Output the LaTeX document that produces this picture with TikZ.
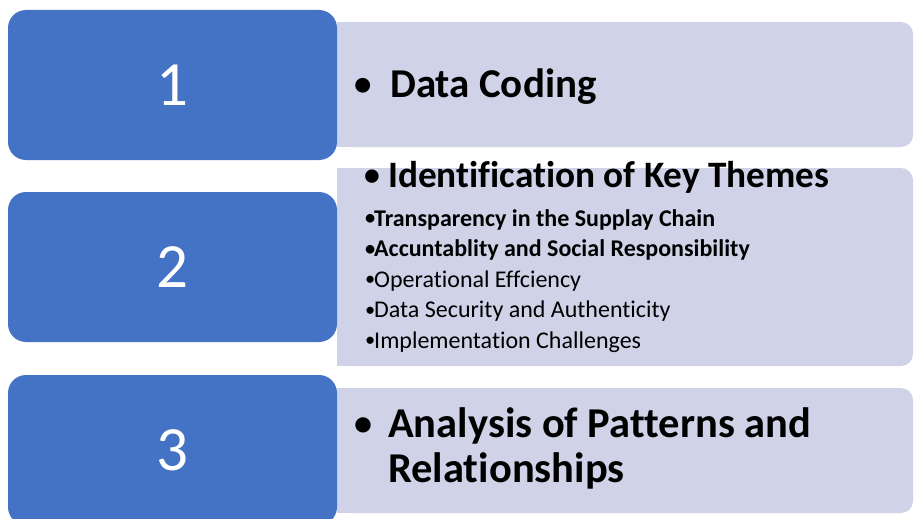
\documentclass[tikz,border=0pt]{standalone}
\usepackage{fontspec}
\setmainfont[Ligatures=NoCommon]{Carlito}

\definecolor{stepblue}{HTML}{4472C4}
\definecolor{listgray}{HTML}{D0D3E8}

\tikzset{
  numbox/.style={fill=stepblue,rounded corners=18pt,minimum width=329pt,minimum height=150pt,
    inner sep=0pt,text=white,font=\fontsize{63}{63}\selectfont},
  listbox/.style={fill=listgray,rounded corners=12pt,minimum width=576pt,inner sep=0pt},
  headtext/.style={anchor=base west,inner sep=0pt,align=left,font=\fontsize{41}{45}\selectfont\bfseries},
  subtext/.style={anchor=base west,inner sep=0pt,font=\fontsize{24}{30}\selectfont},
}
\newcommand{\dotb}{\raisebox{0.045em}{\scalebox{0.85}{\textbullet}}}
\newcommand{\hbul}{\makebox[36pt][l]{\dotb}}
\newcommand{\sbul}{\makebox[9pt][l]{\dotb}}

\begin{document}
\begin{tikzpicture}[x=1pt,y=-1pt]
  \useasboundingbox (0,0) rectangle (915,519);
  \clip (0,0) rectangle (915,519);

  % grey panels, square on the left
  \node[listbox,minimum height=125pt] (g1) at (625,84.5) {};
  \node[listbox,minimum height=198pt] (g2) at (625,267) {};
  \node[listbox,minimum height=125pt] (g3) at (625,450.5) {};
  \foreach \g in {g1,g2,g3}
    \fill[listgray] (\g.north west) rectangle ([xshift=20pt]\g.south west);

  % numbered blocks
  \node[numbox] (b1) at (172.5,85) {1};
  \node[numbox] (b2) at (172.5,267) {2};
  \node[numbox] (b3) at (172.5,450) {3};

  \node[headtext] (h1) at (354,97) {\hbul Data Coding};
  \node[headtext,font=\fontsize{37.3}{40}\selectfont\bfseries] (h2) at (364,187)
    {\makebox[24pt][l]{\dotb}Identification of Key Themes};
  \node[headtext,font=\fontsize{42.5}{45}\selectfont\bfseries] (h3) at (354,482)
    {\makebox[34pt][l]{\dotb}Analysis of Patterns and\\\hspace*{34pt}Relationships};

  \foreach \txt/\wt [count=\i] in {Transparency in the Supplay Chain/\bfseries,
      Accuntablity and Social Responsibility/\bfseries,
      Operational Effciency/\mdseries,
      Data Security and Authenticity/\mdseries,
      Implementation Challenges/\mdseries}
    \node[subtext] (s\i) at (365,195.5+30.5*\i) {\wt\sbul\txt};
\end{tikzpicture}
\end{document}
